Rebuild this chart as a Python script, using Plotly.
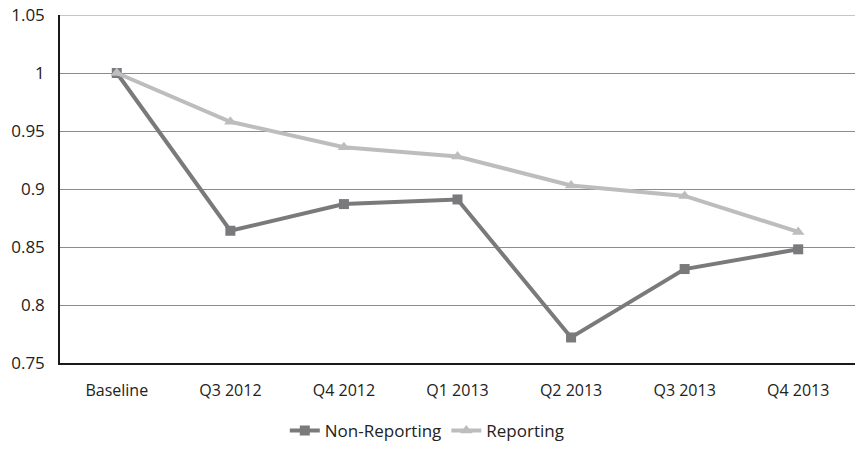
import plotly.graph_objects as go

categories = ["Baseline", "Q3 2012", "Q4 2012", "Q1 2013", "Q2 2013", "Q3 2013", "Q4 2013"]
non_reporting = [1.0, 0.864, 0.887, 0.891, 0.772, 0.831, 0.848]
reporting = [1.0, 0.958, 0.936, 0.928, 0.903, 0.894, 0.863]
y_tickvals = [0.75, 0.8, 0.85, 0.9, 0.95, 1.0, 1.05]
y_ticktext = ["0.75", "0.8", "0.85", "0.9", "0.95", "1", "1.05"]

FONT = "Open Sans, Lato, sans-serif"
GRID = "#8c8c8c"

fig = go.Figure()
fig.add_trace(go.Scatter(
    x=categories, y=non_reporting, name="Non-Reporting", mode="lines+markers",
    line=dict(color="#7a7a7c", width=4),
    marker=dict(symbol="square", size=10, color="#7a7a7c"),
))
fig.add_trace(go.Scatter(
    x=categories, y=reporting, name="Reporting", mode="lines+markers",
    line=dict(color="#bdbdbf", width=4),
    marker=dict(symbol="triangle-up", size=11, color="#bdbdbf"),
))

# top gridline at the edge of the range (plotly omits gridlines on the plot edge)
fig.add_shape(type="line", xref="paper", x0=0, x1=1, yref="y",
              y0=y_tickvals[-1], y1=y_tickvals[-1],
              line=dict(color=GRID, width=1), layer="below")

fig.update_layout(
    width=855, height=449,
    margin=dict(l=60, r=0, t=15, b=82),
    plot_bgcolor="white", paper_bgcolor="white",
    font=dict(family=FONT, size=16, color="#222222"),
    showlegend=True,
    legend=dict(orientation="h", x=0.462, xanchor="center", y=-0.195, yanchor="middle",
                font=dict(family=FONT, size=17), tracegroupgap=0),
    xaxis=dict(
        showgrid=False, showline=True, linecolor="#1a1a1a", linewidth=1.5,
        ticks="", tickfont=dict(family=FONT, size=16), ticklabelstandoff=12,
        range=[-0.5, 6.5], automargin=False,
    ),
    yaxis=dict(
        range=[0.75, 1.05], tickvals=y_tickvals, ticktext=y_ticktext,
        showgrid=True, gridcolor=GRID, gridwidth=1,
        showline=True, linecolor="#1a1a1a", linewidth=1.5,
        ticks="", zeroline=False, tickfont=dict(family=FONT, size=17), ticklabelstandoff=10,
        ticklabeloverflow="allow", automargin=False,
    ),
)

fig.write_html("out.html", config={"displayModeBar": False},
               post_script="document.body.style.margin='0';")
